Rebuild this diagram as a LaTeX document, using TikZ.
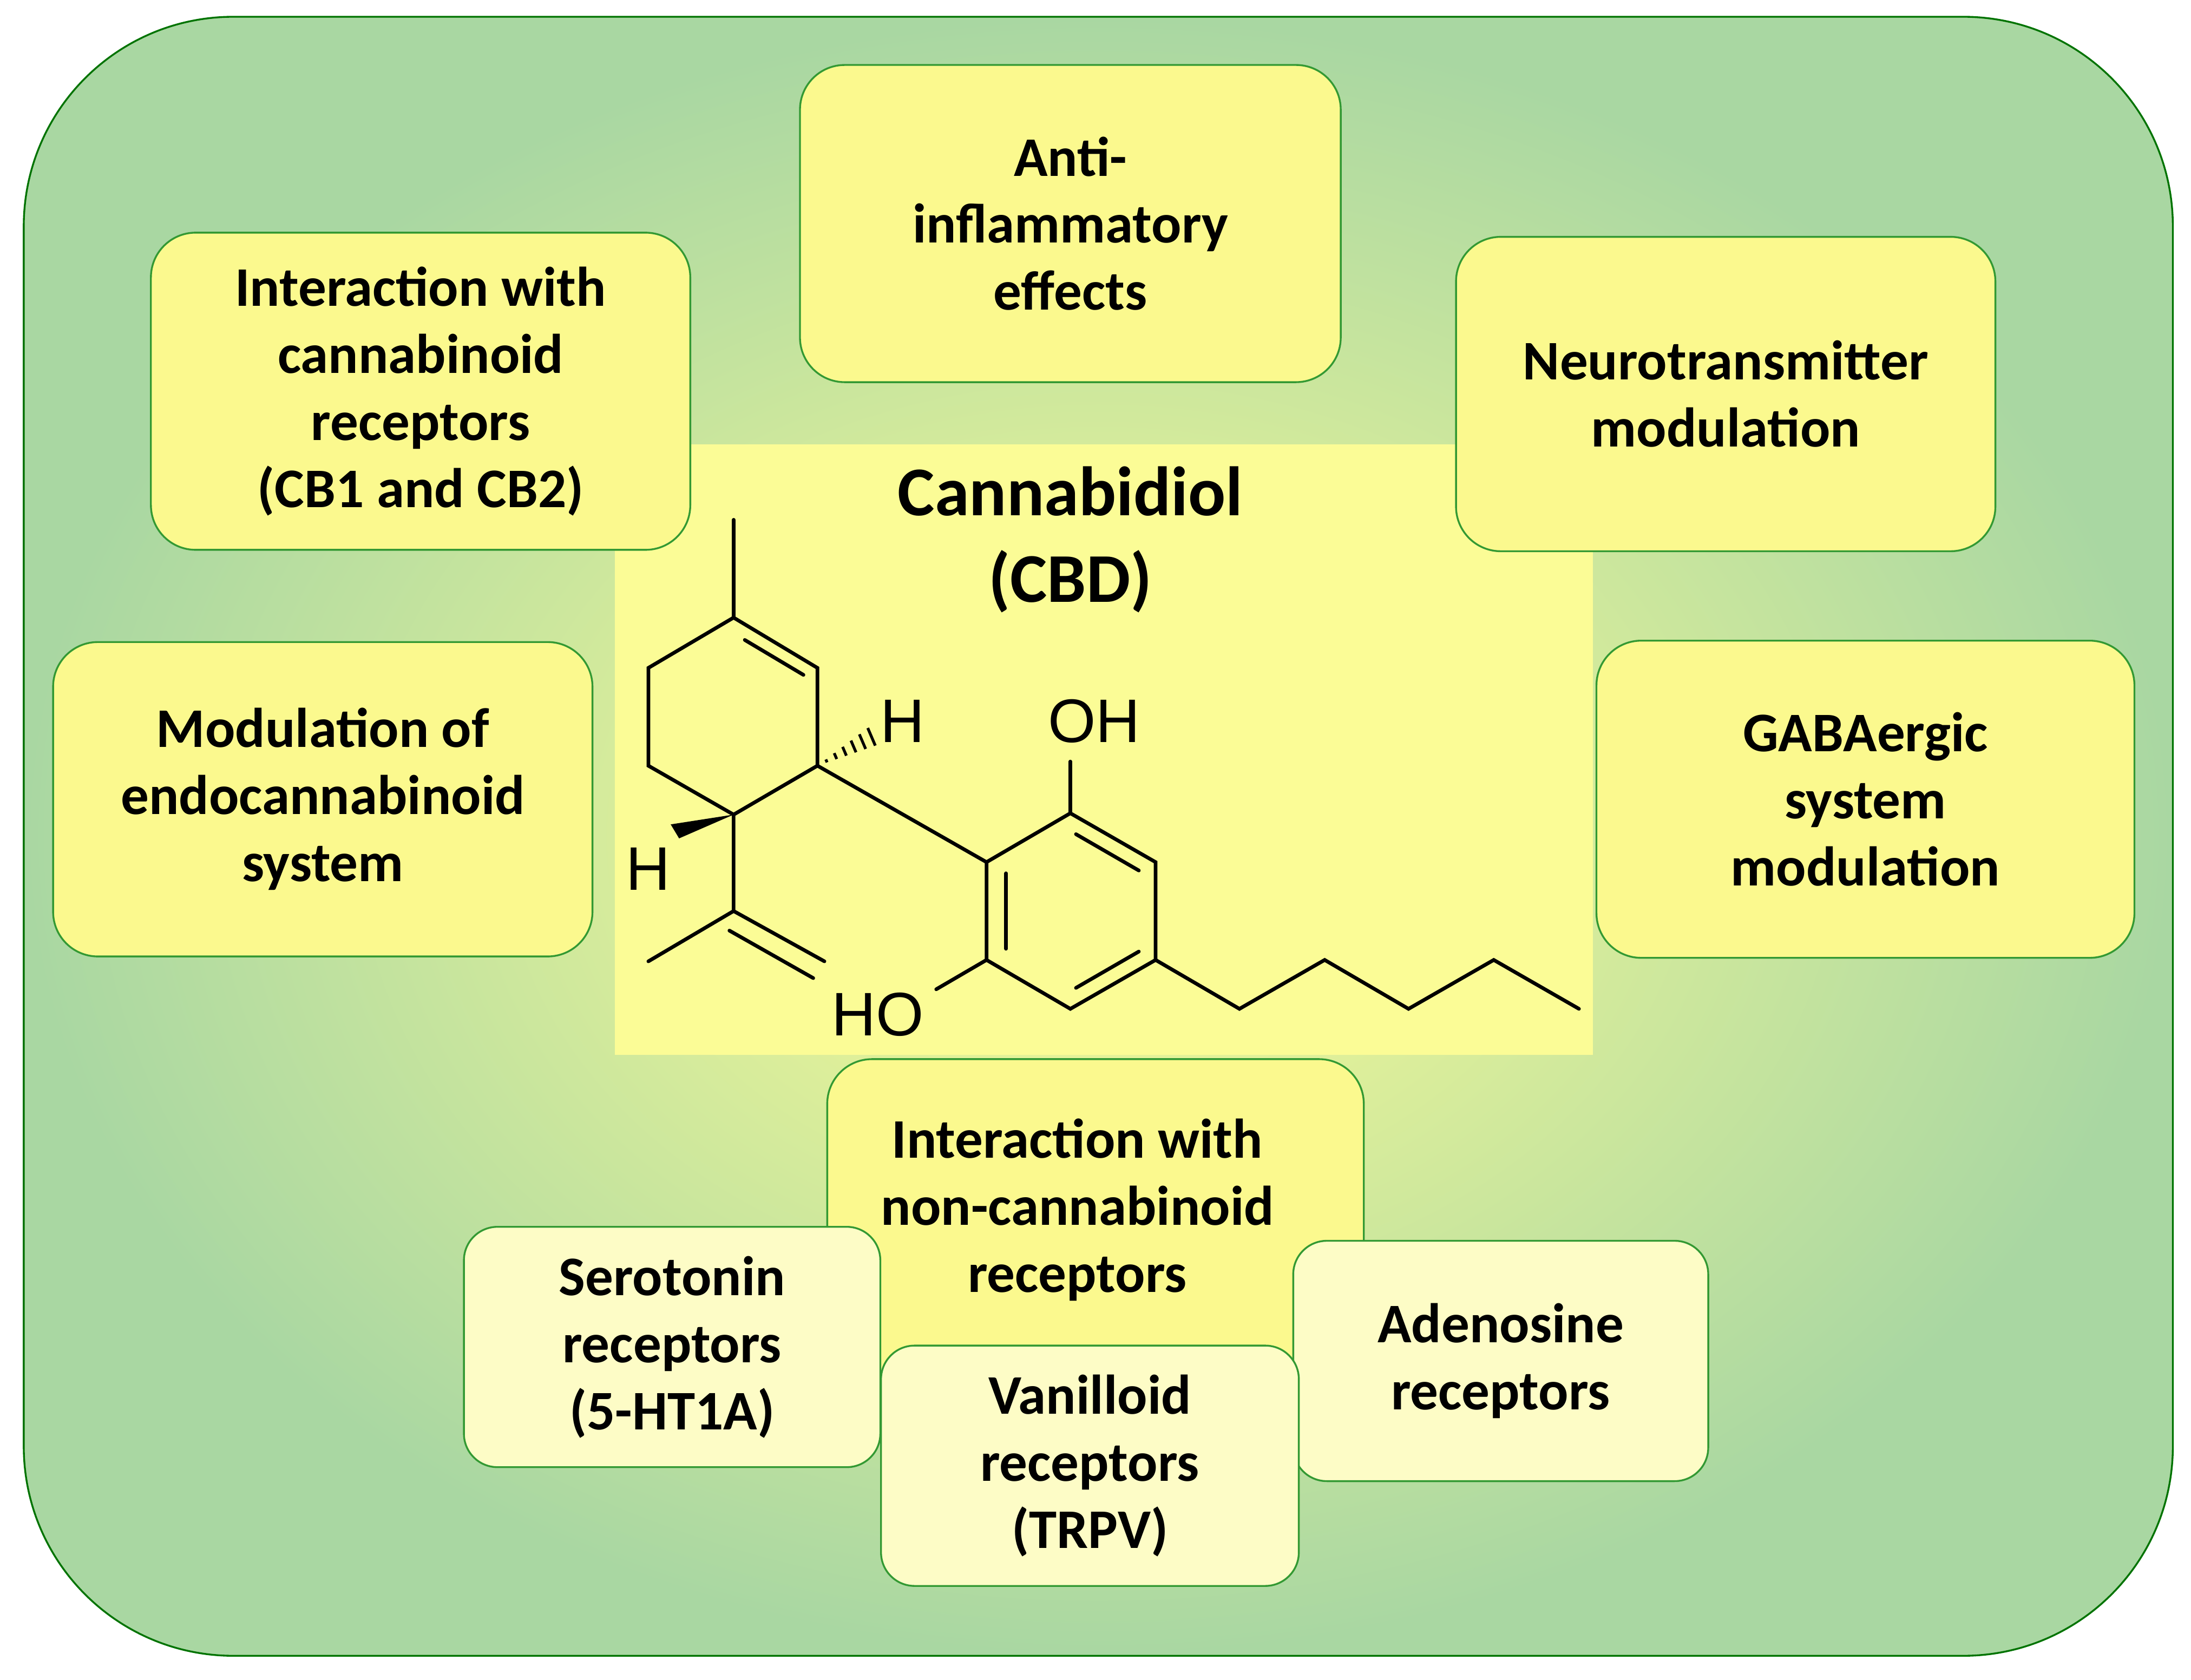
\documentclass[tikz,border=0pt]{standalone}
\usepackage{fontspec}
\usetikzlibrary{calc}
\setmainfont{Carlito}
\newfontfamily\chem{Liberation Sans}
\begin{document}
\begin{tikzpicture}[x=1pt,y=-1pt,
 box/.style={draw=green!50!black!80,line width=1.3pt,rounded corners=32pt,fill=boxy,align=center,font=\fontsize{40}{48}\selectfont\bfseries,inner sep=0pt},
 sub/.style={box,fill=boxl,rounded corners=24pt},
 bond/.style={line width=2.6pt,line cap=round}]
\definecolor{boxy}{HTML}{FBF98E}
\definecolor{boxl}{HTML}{FDFCC6}
\definecolor{bgout}{HTML}{A9D7A2}
\definecolor{bgmid}{HTML}{D8EDA0}
\definecolor{bgin}{HTML}{FBFC96}
\useasboundingbox (0,0) rectangle (1568,1202);
\shade[inner color=bgin,outer color=bgout,draw=green!45!black,line width=1.3pt,rounded corners=150pt] (17,12) rectangle (1555,1185);
\fill[bgin] (440,318) rectangle (1140,755);
\node[box,minimum width=387pt,minimum height=227pt] (anti) at (766,160) {Anti-\\inflammatory\\effects};
\node[box,minimum width=386pt,minimum height=227pt] (cb) at (301,280) {Interaction with\\cannabinoid\\receptors\\(CB1 and CB2)};
\node[box,minimum width=386pt,minimum height=225pt] (neuro) at (1235,282) {Neurotransmitter\\modulation};
\node[box,minimum width=386pt,minimum height=225pt] (endo) at (231,572) {Modulation of\\endocannabinoid\\system};
\node[box,minimum width=385pt,minimum height=227pt] (gaba) at (1335,572) {GABAergic\\system\\modulation};
\node[box,minimum width=384pt,minimum height=232pt] (non) at (784,874) {};
\node[font=\fontsize{40}{48}\selectfont\bfseries,align=center] (nont) at (771,866) {Interaction with\\non-cannabinoid\\receptors};
\node[sub,minimum width=298pt,minimum height=172pt] (sero) at (481,964) {Serotonin\\receptors\\(5-HT1A)};
\node[sub,minimum width=297pt,minimum height=172pt] (adeno) at (1074,974) {Adenosine\\receptors};
\node[sub,minimum width=299pt,minimum height=172pt] (vani) at (780,1049) {Vanilloid\\receptors\\(TRPV)};
\node[font=\fontsize{50}{62}\selectfont\bfseries,align=center] (cbd) at (766,386) {Cannabidiol\\(CBD)};
% structure
\draw[bond] (525,442)--(585,478)--(585,548)--(525,583)--(464,548)--(464,478)--cycle;
\draw[bond] (533,458)--(575,483);
\draw[bond] (525,442)--(525,372);
\draw[bond] (585,548)--(706,617);
\foreach \t in {0.15,0.3,0.45,0.6,0.75,0.9}
  \draw[line width=2pt] ($(585,548)!\t!(628,525)+(-3*\t,-7*\t)$)--($(585,548)!\t!(628,525)+(3*\t,7*\t)$);
\fill (525,583)--(486,600)--(480,590)--cycle;
\draw[bond] (525,583)--(525,652)--(464,688);
\draw[bond] (525,652)--(590,688);
\draw[bond] (522,666)--(582,700);
\draw[bond] (706,617)--(766,582)--(827,617)--(827,687)--(766,722)--(706,687)--cycle;
\draw[bond] (770,597)--(815,623);
\draw[bond] (815,681)--(770,707);
\draw[bond] (720,625)--(720,679);
\draw[bond] (766,582)--(766,545);
\draw[bond] (706,687)--(670,708);
\draw[bond] (827,687)--(887,722)--(948,687)--(1008,722)--(1069,687)--(1130,722);
\node[font=\chem\fontsize{44}{44}\selectfont] (h1) at (646,516) {H};
\node[font=\chem\fontsize{44}{44}\selectfont] (h2) at (464,622) {H};
\node[font=\chem\fontsize{44}{44}\selectfont] (oh) at (783,516) {OH};
\node[font=\chem\fontsize{44}{44}\selectfont] (ho) at (628,726) {HO};
\end{tikzpicture}
\end{document}
